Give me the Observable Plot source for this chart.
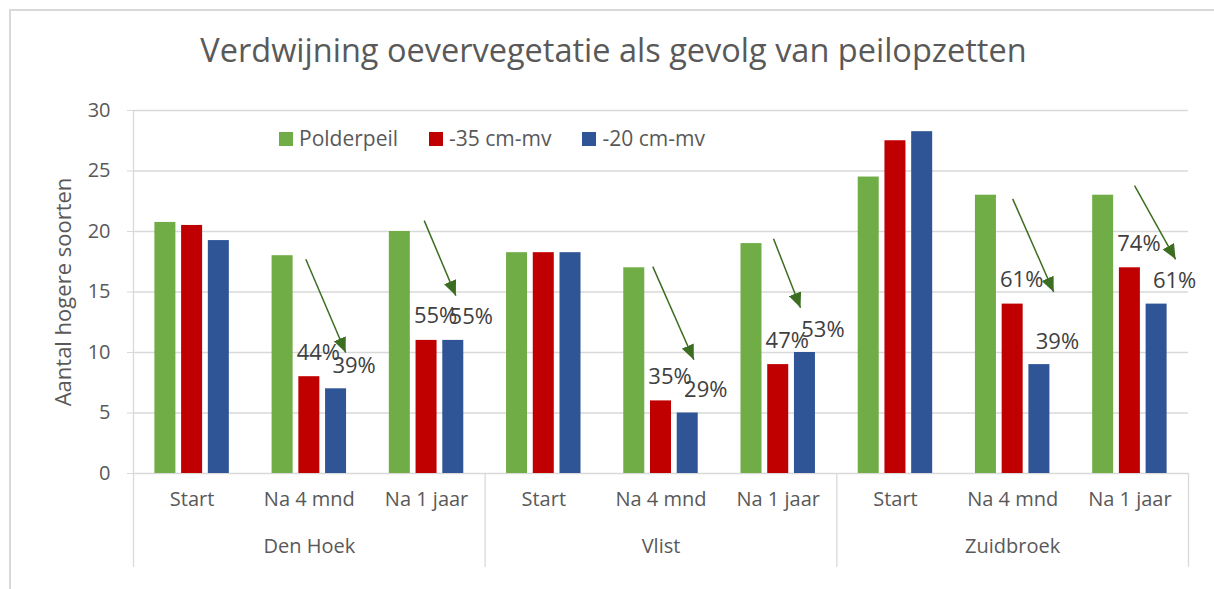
<!DOCTYPE html>
<html>
<head>
<meta charset="utf-8">
<script src="https://cdn.jsdelivr.net/npm/d3@7"></script>
<script src="https://cdn.jsdelivr.net/npm/@observablehq/plot@0.6"></script>
<style>
html,body{margin:0;padding:0;background:#fff;}
#wrap{position:relative;width:1214px;height:589px;overflow:hidden;font-family:"Open Sans",sans-serif;color:#595959;}
#chart{position:absolute;left:0;top:0;}
#border{position:absolute;left:9px;top:9px;width:1300px;height:700px;border-left:2px solid #d9d9d9;border-top:2px solid #d9d9d9;}
#title{position:absolute;left:0;width:1227px;top:34px;text-align:center;font-size:32.5px;line-height:32.5px;white-space:nowrap;}
#legend{position:absolute;left:279px;top:128px;display:flex;gap:31px;font-size:21px;line-height:21px;}
.item{display:flex;align-items:center;gap:6px;}
.sw{width:14px;height:14px;display:inline-block;}
</style>
</head>
<body>
<div id="wrap">
  <div id="chart"></div>
  <div id="border"></div>
  <div id="title"></div>
  <div id="legend"></div>
</div>
<script>
// ---- data ----
const locations = ["Den Hoek", "Vlist", "Zuidbroek"];
const periods = ["Start", "Na 4 mnd", "Na 1 jaar"];
const series = ["Polderpeil", "-35 cm-mv", "-20 cm-mv"];
const colors = ["#70ad47", "#c00000", "#2f5597"];
// one value per (location, period), in order
const polderpeil = [20.75, 18, 20, 18.25, 17, 19, 24.5, 23, 23];
const cm35 = [20.5, 8, 11, 18.25, 6, 9, 27.5, 14, 17];
const cm20 = [19.25, 7, 11, 18.25, 5, 10, 28.25, 9, 14];
const yTicks = [0, 5, 10, 15, 20, 25, 30];
const yLabel = "Aantal hogere soorten";
const title = "Verdwijning oevervegetatie als gevolg van peilopzetten";
// annotation arrows (cluster index, start value, end value, horizontal offsets within cluster)
const arrowCluster = [1, 2, 4, 5, 7, 8];
const arrowFrom = [17.7, 20.9, 17.1, 19.4, 22.7, 23.8];
const arrowTo = [10.0, 14.7, 9.4, 13.7, 15.0, 17.7];
const arrowStartOff = [-0.03, -0.02, -0.07, -0.04, 0.0, 0.04];
const arrowEndOff = [0.31, 0.25, 0.28, 0.19, 0.35, 0.39];

// ---- build tables ----
const seriesValues = [polderpeil, cm35, cm20];
const step = 0.228, half = 0.0896;
const bars = [];
seriesValues.forEach((vals, j) => vals.forEach((v, i) => bars.push({
  cluster: i, series: series[j], sIndex: j, value: v, center: i + 0.5 + (j - 1) * step
})));
const clusters = d3.range(locations.length * periods.length).map(i => ({
  i, location: locations[Math.floor(i / periods.length)], period: periods[i % periods.length]
}));
const pctLabels = bars
  .filter(d => d.sIndex > 0 && d.cluster % 3 !== 0)
  .map(d => ({...d, text: Math.round(d.value / polderpeil[d.cluster] * 100) + "%"}));
const arrows = arrowCluster.map((c, k) => ({
  x1: c + 0.5 + arrowStartOff[k], x2: c + 0.5 + arrowEndOff[k], y1: arrowFrom[k], y2: arrowTo[k]
}));
const arrowColor = "#3c6e21";

const chart = Plot.plot({
  width: 1214,
  height: 589,
  marginTop: 110,
  marginBottom: 116,
  marginLeft: 133,
  marginRight: 26,
  style: {fontFamily: "Open Sans", fontSize: "20px", color: "#595959", background: "transparent", overflow: "visible"},
  x: {domain: [0, clusters.length], axis: null},
  y: {domain: [0, 30], axis: null},
  color: {domain: series, range: colors},
  marks: [
    Plot.gridY(yTicks, {stroke: "#d9d9d9", strokeOpacity: 1, strokeWidth: 1.3}),
    Plot.axisY(yTicks, {tickSize: 6, tickPadding: 17, stroke: "#d9d9d9", fill: "#595959", fontSize: 20, label: null}),
    Plot.ruleX([0], {y1: 0, y2: 30, stroke: "#d9d9d9", strokeWidth: 1.3}),
    Plot.axisX([0, 3, 6, 9], {tickSize: 94, stroke: "#d9d9d9", strokeWidth: 1.3, tickFormat: () => "", label: null}),
    Plot.text(clusters, {x: d => d.i + 0.5, text: "period", frameAnchor: "bottom", dy: 32, fontSize: 20, fill: "#595959"}),
    Plot.text(locations, {x: (d, i) => i * 3 + 1.5, text: d => d, frameAnchor: "bottom", dy: 79, fontSize: 20, fill: "#595959"}),
    Plot.rectY(bars, {x1: d => d.center - half, x2: d => d.center + half, y1: 0, y2: "value", fill: "series"}),
    Plot.text(pctLabels.filter(d => d.sIndex === 1), {x: "center", y: "value", text: "text", dx: 9, dy: -24, fontSize: 22, fill: "#404040"}),
    Plot.text(pctLabels.filter(d => d.sIndex === 2), {x: "center", y: "value", text: "text", dx: 18, dy: -23, fontSize: 22, fill: "#404040"}),
    Plot.link(arrows, {x1: "x1", y1: "y1", x2: "x2", y2: "y2", stroke: arrowColor, strokeWidth: 1.5, markerEnd: "arrow"}),
    Plot.text([yLabel], {frameAnchor: "left", textAnchor: "middle", rotate: -90, dx: -70, fontSize: 22, fill: "#595959"})
  ]
});

chart.querySelectorAll("marker").forEach(m => {
  m.setAttribute("viewBox", "-15 -7 15 14");
  m.setAttribute("markerWidth", 15 / 1.5);
  m.setAttribute("markerHeight", 14 / 1.5);
  m.setAttribute("fill", arrowColor);
  m.setAttribute("stroke", "none");
  const p = m.querySelector("path");
  if (p) p.setAttribute("d", "M-15,-6.5L0,0L-15,6.5Z");
});

document.getElementById("chart").appendChild(chart);
document.getElementById("title").textContent = title;

const legend = document.getElementById("legend");
series.forEach((s, j) => {
  const item = document.createElement("div");
  item.className = "item";
  const sw = document.createElement("span");
  sw.className = "sw";
  sw.style.background = colors[j];
  const t = document.createElement("span");
  t.textContent = s;
  item.appendChild(sw);
  item.appendChild(t);
  legend.appendChild(item);
});
</script>
</body>
</html>
